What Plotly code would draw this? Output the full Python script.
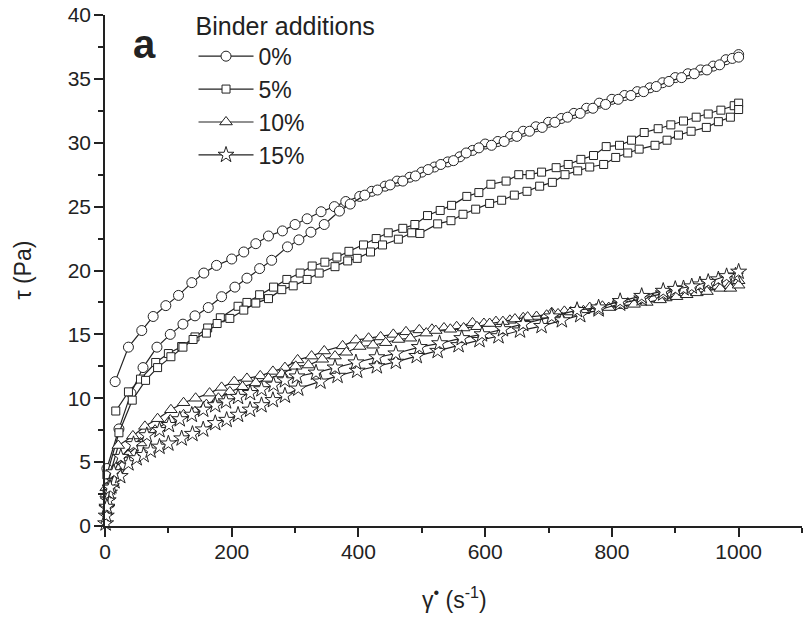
import plotly.graph_objects as go

# 0 % binder: ramp-up and ramp-down branches
X0_UP = [16, 37, 58, 76, 96, 116, 137, 156, 176, 200, 219, 238, 258, 280, 300, 319, 341, 362, 380, 402,
         421, 442, 461, 481, 500, 520, 541, 560, 580, 600, 620, 640, 660, 680, 700, 720, 740, 760, 780, 800,
         820, 840, 860, 880, 900, 920, 940, 960, 980, 1000]
Y0_UP = [11.3, 14.0, 15.3, 16.4, 17.25, 18.05, 19.05, 19.8, 20.4, 20.9, 21.45, 22.1, 22.7, 23.1, 23.6, 24.05, 24.6, 25.0, 25.4, 25.8,
         26.2, 26.6, 27.0, 27.3, 27.7, 28.1, 28.5, 28.9, 29.4, 29.9, 30.1, 30.5, 30.9, 31.25, 31.6, 31.9, 32.3, 32.7, 33.1, 33.4,
         33.7, 34.0, 34.3, 34.7, 35.1, 35.4, 35.7, 36.0, 36.5, 36.9]
X0_DN = [3, 22, 41, 60, 82, 103, 123, 142, 163, 184, 205, 224, 244, 263, 288, 306, 325, 346, 370, 387,
         410, 430, 450, 470, 490, 510, 530, 550, 570, 590, 610, 630, 650, 670, 690, 710, 730, 750, 770, 790,
         810, 830, 850, 870, 890, 910, 930, 950, 970, 990, 1000]
Y0_DN = [4.5, 7.6, 10.4, 12.4, 14.0, 15.0, 15.8, 16.45, 17.1, 17.95, 18.7, 19.4, 20.15, 20.8, 21.85, 22.4, 23.0, 23.6, 24.65, 25.2,
         25.9, 26.3, 26.7, 27.0, 27.4, 27.9, 28.3, 28.6, 29.2, 29.6, 29.8, 30.1, 30.5, 30.9, 31.2, 31.6, 32.0, 32.3, 32.7, 33.0,
         33.4, 33.7, 34.0, 34.4, 34.8, 35.1, 35.4, 35.7, 36.1, 36.6, 36.7]

# 5 %
X5_UP = [17, 37, 56, 80, 100, 121, 142, 162, 182, 210, 224, 244, 266, 287, 308, 327, 347, 366, 385, 408,
         428, 447, 470, 489, 509, 529, 547, 571, 590, 609, 633, 653, 671, 689, 712, 731, 751, 771, 791, 812,
         831, 851, 873, 893, 913, 933, 952, 972, 993, 1000]
Y5_UP = [9.0, 10.5, 11.5, 12.8, 13.5, 14.05, 14.8, 15.5, 16.3, 17.2, 17.5, 18.1, 18.7, 19.3, 19.8, 20.35, 20.65, 21.05, 21.5, 22.0,
         22.5, 22.95, 23.3, 23.6, 24.3, 24.7, 25.1, 25.8, 26.1, 26.75, 27.0, 27.5, 27.5, 27.7, 28.05, 28.3, 28.7, 29.0, 29.7, 29.8,
         30.2, 30.8, 31.1, 31.4, 31.7, 32.0, 32.25, 32.55, 32.9, 33.1]
X5_DN = [3, 22, 43, 64, 83, 104, 123, 139, 160, 177, 197, 219, 238, 258, 279, 297, 319, 338, 363, 383,
         398, 419, 438, 463, 484, 497, 525, 546, 565, 585, 607, 626, 646, 666, 686, 706, 726, 746, 765, 787,
         806, 825, 843, 868, 887, 905, 925, 949, 968, 987, 1000]
Y5_DN = [4.0, 7.3, 9.85, 11.4, 12.4, 13.25, 14.0, 14.6, 15.1, 15.85, 16.25, 16.9, 17.45, 17.8, 18.5, 18.8, 19.3, 19.8, 20.3, 20.75,
         20.95, 21.45, 22.0, 22.45, 22.95, 22.9, 23.65, 23.9, 24.4, 24.8, 25.25, 25.5, 25.9, 26.2, 26.6, 26.9, 27.5, 27.8, 28.1, 28.3,
         28.85, 29.2, 29.5, 29.8, 30.2, 30.6, 30.9, 31.2, 31.65, 32.0, 32.6]

# 10 %
X10_UP = [2, 21, 44, 63, 83, 104, 124, 143, 165, 184, 204, 224, 245, 265, 284, 304, 326, 346, 375, 396,
          416, 435, 455, 475, 496, 516, 535, 555, 580, 598, 617, 639, 660, 681, 705, 725, 745, 765, 785, 805,
          825, 845, 865, 885, 905, 925, 945, 965, 985, 1000]
Y10_UP = [3.0, 6.3, 7.05, 7.8, 8.4, 9.1, 9.65, 10.0, 10.4, 10.85, 11.3, 11.55, 11.75, 12.1, 12.4, 13.0, 13.3, 13.7, 14.1, 14.55,
          14.7, 14.8, 15.0, 15.2, 15.35, 15.4, 15.5, 15.6, 15.9, 15.85, 16.0, 16.1, 16.3, 16.4, 16.7, 16.8, 16.95, 17.1, 17.2, 17.35,
          17.45, 17.6, 17.75, 17.85, 18.1, 18.3, 18.5, 18.75, 18.75, 19.2]
X10_DN = [2, 18, 36, 56, 79, 103, 124, 142, 160, 179, 197, 217, 238, 258, 279, 301, 321, 343, 363, 381,
          402, 423, 443, 463, 482, 507, 522, 545, 566, 587, 607, 628, 647, 667, 697, 715, 735, 755, 775, 795,
          815, 835, 855, 876, 902, 918, 934, 950, 971, 987, 1000]
Y10_DN = [2.5, 4.6, 5.6, 6.5, 7.5, 8.3, 8.7, 8.95, 9.5, 10.0, 10.5, 10.9, 11.2, 11.55, 11.9, 12.5, 12.6, 13.05, 13.3, 13.6,
          14.05, 14.15, 14.35, 14.6, 14.7, 15.1, 15.3, 15.4, 15.5, 15.6, 15.85, 16.0, 16.2, 16.35, 16.5, 16.6, 16.75, 16.85, 17.0, 17.1,
          17.25, 17.35, 17.5, 17.7, 17.95, 18.1, 18.25, 18.35, 18.6, 18.6, 18.85]

# 15 %
X15_A = [1, 2, 3, 5, 7, 10, 15, 24, 37, 50, 61, 72, 86, 100, 121, 138, 155, 174, 192, 210,
         229, 247, 265, 284, 305, 340, 367, 398, 429, 459, 492, 525, 558, 591, 621, 655, 689, 721, 750, 779,
         813, 847, 881, 913, 939, 968, 995]
Y15_A = [0.2, 0.8, 1.4, 2.0, 2.6, 3.1, 3.5, 3.9, 4.9, 5.3, 5.55, 5.9, 6.2, 6.45, 6.85, 7.2, 7.55, 8.05, 8.3, 8.7,
         9.1, 9.45, 9.85, 10.2, 10.75, 11.3, 11.75, 12.15, 12.5, 12.85, 13.3, 13.7, 14.15, 14.55, 14.85, 15.3, 15.65, 16.1, 16.5, 16.95,
         17.4, 17.8, 18.2, 18.6, 18.9, 19.3, 19.6]
X15_B = [3, 8, 14, 25, 45, 66, 86, 101, 118, 137, 155, 174, 191, 210, 229, 247, 266, 284, 303, 333,
         363, 396, 429, 459, 496, 528, 563, 595, 628, 660, 705, 745, 779, 813, 847, 881, 900, 926, 952, 981, 1000]
Y15_B = [1.5, 3.0, 4.2, 5.4, 6.4, 7.1, 7.5, 7.9, 8.35, 8.7, 9.1, 9.45, 9.75, 10.1, 10.4, 10.7, 11.05, 11.4, 11.7, 12.0,
         12.4, 12.8, 13.2, 13.5, 14.0, 14.3, 14.7, 15.0, 15.4, 15.8, 16.4, 16.9, 17.1, 17.6, 18.0, 18.4, 18.55, 18.75, 19.1, 19.55, 19.9]

SERIES = [
    ("0%", "circle", 10, [(X0_UP, Y0_UP), (X0_DN, Y0_DN)]),
    ("5%", "square", 8, [(X5_UP, Y5_UP), (X5_DN, Y5_DN)]),
    ("10%", "triangle-up", 11, [(X10_UP, Y10_UP), (X10_DN, Y10_DN)]),
    ("15%", "star", 12, [(X15_A, Y15_A), (X15_B, Y15_B)]),
]

FONT = "Liberation Sans, Arial, sans-serif"
INK = "#222222"

fig = go.Figure()
for name, symbol, size, branches in SERIES:
    for i, (xs, ys) in enumerate(branches):
        fig.add_trace(go.Scatter(
            x=xs, y=ys, mode="lines+markers", name=name,
            legendgroup=name, showlegend=(i == 0), cliponaxis=False,
            line=dict(color=INK, width=1.2),
            marker=dict(symbol=symbol, size=size, color="white",
                        line=dict(color=INK, width=1)),
        ))

axis_common = dict(
    showline=True, linecolor=INK, linewidth=1.6, showgrid=False, zeroline=False,
    ticks="outside", ticklen=9, tickwidth=1.5, tickcolor=INK, automargin=False,
    ticklabeloverflow="allow",
    tickfont=dict(family=FONT, size=21, color=INK),
)
fig.update_xaxes(range=[0, 1100], tick0=0, dtick=200,
                 minor=dict(dtick=100, ticks="outside", ticklen=5, tickwidth=1.5, tickcolor=INK),
                 ticklabelstandoff=-3, **axis_common)
fig.update_yaxes(range=[0, 40], tick0=0, dtick=5,
                 minor=dict(dtick=2.5, ticks="outside", ticklen=5, tickwidth=1.5, tickcolor=INK),
                 ticklabelstandoff=-1, **axis_common)

fig.update_layout(
    width=804, height=618,
    margin=dict(l=105, r=2, t=15, b=92, autoexpand=False),
    plot_bgcolor="white", paper_bgcolor="white",
    font=dict(family=FONT, color=INK),
    legend=dict(
        title=dict(text="Binder additions", font=dict(size=25, family=FONT, color=INK)),
        font=dict(size=23, family=FONT, color=INK),
        x=0.127, y=1.025, xanchor="left", yanchor="top",
        bgcolor="rgba(0,0,0,0)", tracegroupgap=0, itemwidth=55,
    ),
    annotations=[
        dict(text="<b>a</b>", x=0.057, y=0.943, xref="paper", yref="paper",
             xanchor="center", yanchor="middle",
             showarrow=False, font=dict(size=40, family=FONT, color=INK)),
        dict(text="τ (Pa)", x=-0.119, y=0.50, xref="paper", yref="paper", textangle=-90,
             xanchor="center", yanchor="middle",
             showarrow=False, font=dict(size=23, family=FONT, color=INK)),
        dict(text="γ<sup>•</sup> (s<sup>-1</sup>)", x=0.502, y=-0.141, xref="paper", yref="paper",
             xanchor="center", yanchor="middle",
             showarrow=False, font=dict(size=23, family=FONT, color=INK)),
    ],
)

# drop the default 8px page margin so the figure sits at the window origin
fig.write_html("out.html", config={"displayModeBar": False},
               post_script="document.body.style.margin='0';")
